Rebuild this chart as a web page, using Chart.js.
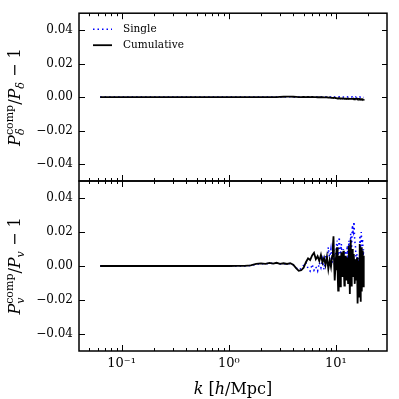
<!DOCTYPE html>
<html>
<head>
<meta charset="utf-8">
<script src="https://cdn.jsdelivr.net/npm/chart.js@4"></script>
<style>
html, body { margin: 0; padding: 0; background: #fff; }
#wrap { position: relative; width: 399px; height: 399px; }
#wrap canvas { position: absolute; left: 0; top: 0; }
</style>
</head>
<body>
<div id="wrap">
  <canvas id="densityChart" width="399" height="399"></canvas>
  <canvas id="velocityChart" width="399" height="399"></canvas>
</div>
<script>
// k in h/Mpc
var kValues = [0.063, 0.08, 0.1, 0.13, 0.16, 0.2, 0.25, 0.3, 0.4, 0.5, 0.6, 0.8, 1.0, 1.2, 1.4,
  1.6, 1.8, 2.0, 2.2, 2.4, 2.6, 2.8, 3.0,
  3.25, 3.5, 3.75, 4.0, 4.25, 4.5, 4.75, 5.0, 5.25, 5.5, 5.75, 6.0,
  6.25, 6.5, 6.75, 7.0, 7.25, 7.5, 7.75, 8.0, 8.25, 8.5, 8.75,
  9.0, 9.125, 9.25, 9.375, 9.5, 9.625, 9.75, 9.875,
  10.0, 10.125, 10.25, 10.375, 10.5, 10.625, 10.75, 10.875,
  11.0, 11.125, 11.25, 11.375, 11.5, 11.625, 11.75, 11.875,
  12.0, 12.125, 12.25, 12.375, 12.5, 12.625, 12.75, 12.875,
  13.0, 13.125, 13.25, 13.375, 13.5, 13.625, 13.75, 13.875,
  14.0, 14.125, 14.25, 14.375, 14.5, 14.625, 14.75, 14.875,
  15.0, 15.125, 15.25, 15.375, 15.5, 15.625, 15.75, 15.875,
  16.0, 16.125, 16.25, 16.375, 16.5, 16.625, 16.75, 16.875,
  17.0, 17.125, 17.25, 17.375, 17.5, 17.625, 17.75, 17.875,
  18.0, 18.2];

// top panel: P_delta
var densitySingle = [0, 0, 0, 0, 0, 0, 0, 0, 0, 0, 0, 0, 0, 0, 0,
  0, 0, 0, 0, 0, 0, 0, 0,
  0.0001, 0.0002, 0.0002, 0.0001, 0.0001, 0, 0, 0, 0, 0, 0, 0,
  0, 0, 0, 0, 0, 0.0001, 0, 0.0001, 0, 0.0001, 0,
  0.0001, 0, 0.0001, 0, 0, 0.0001, 0.0001, 0,
  0, 0.0001, 0.0001, 0, 0, 0.0001, 0.0002, 0.0001,
  0, 0, 0.0001, 0, -0.0001, 0, 0.0001, 0,
  0, 0, 0.0001, 0, -0.0001, 0.0001, 0.0002, 0.0001,
  0, 0, 0.0001, 0, -0.0001, 0, 0.0001, 0,
  0, 0.0001, 0.0002, 0, -0.0001, 0, 0.0001, 0,
  0, 0, 0.0001, 0, -0.0001, 0, 0.0001, -0.0001,
  -0.0002, -0.0001, 0, -0.0001, -0.0001, 0, 0.0001, -0.0001,
  -0.0002, -0.0001, 0, -0.0001, -0.0001, -0.0001, -0.0001, -0.0002,
  -0.0002, -0.0001];
var densityCumulative = [0, 0, 0, 0, 0, 0, 0, 0, 0, 0, 0, 0, 0, 0, 0,
  0, 0, 0, 0, 0, 0, 0, 0.0001,
  0.0002, 0.0003, 0.0003, 0.0002, 0.0001, 0, 0, 0.0001, 0, 0.0001, 0, 0.0001,
  0, 0, -0.0001, 0, -0.0001, -0.0001, -0.0002, -0.0002, -0.0001, -0.0003, -0.0002,
  -0.0004, -0.0003, -0.0004, -0.0005, -0.0005, -0.0004, -0.0004, -0.0005,
  -0.0006, -0.0006, -0.0007, -0.0008, -0.0008, -0.0007, -0.0007, -0.0008,
  -0.0009, -0.0008, -0.0008, -0.0009, -0.0009, -0.0008, -0.0008, -0.0009,
  -0.0010, -0.0009, -0.0009, -0.0010, -0.0010, -0.0009, -0.0009, -0.0010,
  -0.0011, -0.0010, -0.0009, -0.0010, -0.0010, -0.0011, -0.0011, -0.0010,
  -0.0009, -0.0010, -0.0010, -0.0011, -0.0011, -0.0010, -0.0010, -0.0011,
  -0.0012, -0.0011, -0.0010, -0.0011, -0.0011, -0.0010, -0.0009, -0.0011,
  -0.0012, -0.0011, -0.0010, -0.0011, -0.0011, -0.0012, -0.0013, -0.0012,
  -0.0011, -0.0012, -0.0012, -0.0013, -0.0014, -0.0013, -0.0012, -0.0014,
  -0.0015, -0.0013];

// bottom panel: P_v
var velocitySingle = [0, 0, 0, 0, 0, 0, 0, 0, 0, 0, 0, 0, 0, 0, 0,
  0.0003, 0.0010, 0.0014, 0.0013, 0.0016, 0.0015, 0.0017, 0.0012,
  0.0014, 0.0010, 0.0015, 0.0006, -0.0010, -0.0022, -0.0015, 0.0005, 0.0020, -0.0015, -0.0030, 0.0010,
  -0.0025, -0.0005, -0.0030, 0.0020, -0.0010, 0.0040, -0.0020, 0.0060, 0.0020, 0.0110, 0.0040,
  0.0100, 0.0060, 0.0020, 0.0070, 0.0120, 0.0050, -0.0010, 0.0030,
  0.0080, 0.0120, 0.0150, 0.0100, 0.0060, 0.0110, 0.0170, 0.0100,
  0.0040, 0.0090, 0.0130, 0.0070, 0.0020, 0.0060, 0.0100, 0.0030,
  -0.0030, 0.0030, 0.0090, 0.0050, 0.0010, 0.0070, 0.0120, 0.0080,
  0.0040, 0.0100, 0.0150, 0.0100, 0.0060, 0.0130, 0.0190, 0.0140,
  0.0090, 0.0170, 0.0240, 0.0210, 0.0200, 0.0230, 0.0260, 0.0200,
  0.0150, 0.0130, 0.0110, 0.0060, 0.0010, 0.0040, 0.0070, 0.0010,
  -0.0060, 0.0000, 0.0050, -0.0030, -0.0100, 0.0040, 0.0180, 0.0130,
  0.0090, 0.0150, 0.0200, 0.0160, 0.0120, 0.0140, 0.0160, 0.0110,
  0.0060, 0.0100];
var velocityCumulative = [0, 0, 0, 0, 0, 0, 0, 0, 0, 0, 0, 0, 0, 0.0001, 0.0001,
  0.0004, 0.0012, 0.0015, 0.0012, 0.0018, 0.0014, 0.0019, 0.0013,
  0.0016, 0.0012, 0.0017, 0.0008, -0.0012, -0.0028, -0.0025, -0.0010, 0.0022, 0.0045, 0.0035, 0.0062,
  0.0078, 0.0040, 0.0058, 0.0030, 0.0065, 0.0020, 0.0048, 0.0005, 0.0055, -0.0018, 0.0035,
  -0.0005, 0.0030, 0.0060, 0.0120, 0.0175, 0.0020, -0.0085, -0.0020,
  0.0040, 0.0090, 0.0110, -0.0030, -0.0145, -0.0050, 0.0060, -0.0040,
  -0.0120, 0.0010, 0.0080, 0.0020, -0.0060, 0.0030, 0.0090, -0.0020,
  -0.0115, -0.0030, 0.0060, 0.0010, -0.0080, -0.0010, 0.0050, -0.0040,
  -0.0100, 0.0020, 0.0120, -0.0020, -0.0165, 0.0000, 0.0155, 0.0020,
  -0.0120, -0.0010, 0.0100, 0.0020, -0.0060, 0.0010, 0.0070, -0.0030,
  -0.0105, -0.0020, 0.0040, -0.0020, -0.0080, -0.0010, 0.0050, -0.0090,
  -0.0220, -0.0080, 0.0030, -0.0070, -0.0180, -0.0020, 0.0130, -0.0050,
  -0.0210, -0.0040, 0.0110, -0.0010, -0.0150, -0.0020, 0.0090, -0.0010,
  -0.0120, 0.0060];

var seriesLabels = ['Single', 'Cumulative'];
var xTickValues = [0.1, 1, 10];
var xTickLabels = ['10\u207B\u00B9', '10\u2070', '10\u00B9'];
var yTickValues = [-0.04, -0.02, 0, 0.02, 0.04];

var SERIF = "'DejaVu Serif', serif";

// draws a small piece of math text, parts = [{t, it, s, dy, stack}]
function drawMath(ctx, parts, cx, cy, rotate) {
  var total = 0, held = 0;
  parts.forEach(function (p) {
    ctx.font = (p.it ? 'italic ' : '') + p.s + 'px ' + SERIF;
    p.w = ctx.measureText(p.t).width;
    if (p.stack) { held = p.w; } else { total += Math.max(p.w, held); held = 0; }
  });
  ctx.save();
  ctx.translate(cx, cy);
  if (rotate) ctx.rotate(-Math.PI / 2);
  ctx.fillStyle = '#000';
  ctx.textAlign = 'left';
  ctx.textBaseline = 'alphabetic';
  var x = -total / 2;
  held = 0;
  parts.forEach(function (p) {
    ctx.font = (p.it ? 'italic ' : '') + p.s + 'px ' + SERIF;
    ctx.fillText(p.t, x, p.dy || 0);
    if (p.stack) { held = p.w; } else { x += Math.max(p.w, held); held = 0; }
  });
  ctx.restore();
}

var panelDecor = {
  id: 'panelDecor',
  afterDraw: function (chart, args, o) {
    var ctx = chart.ctx, a = chart.chartArea, x = chart.scales.x, y = chart.scales.y;
    ctx.save();
    ctx.strokeStyle = '#000';
    ctx.lineWidth = 1;
    ctx.beginPath();
    xTickValues.forEach(function (v) {
      var px = Math.round(x.getPixelForValue(v)) + 0.5;
      ctx.moveTo(px, a.bottom); ctx.lineTo(px, a.bottom - 6);
      ctx.moveTo(px, a.top); ctx.lineTo(px, a.top + 6);
    });
    [0.01, 0.1, 1, 10].forEach(function (d) {
      for (var m = 2; m <= 9; m++) {
        var v = m * d;
        if (v <= x.min || v >= x.max) continue;
        var px = Math.round(x.getPixelForValue(v)) + 0.5;
        ctx.moveTo(px, a.bottom); ctx.lineTo(px, a.bottom - 3);
        ctx.moveTo(px, a.top); ctx.lineTo(px, a.top + 3);
      }
    });
    yTickValues.forEach(function (v) {
      var py = Math.round(y.getPixelForValue(v)) + 0.5;
      ctx.moveTo(a.left, py); ctx.lineTo(a.left + 6, py);
      ctx.moveTo(a.right, py); ctx.lineTo(a.right - 5, py);
    });
    ctx.stroke();
    ctx.lineWidth = 1.5;
    ctx.strokeRect(a.left, a.top, a.right - a.left, a.bottom - a.top);

    drawMath(ctx, o.yTitle, o.yTitleX, (a.top + a.bottom) / 2, true);
    if (o.xTitle) drawMath(ctx, o.xTitle, (a.left + a.right) / 2, o.xTitleY, false);

    if (o.legend) {
      chart.data.datasets.forEach(function (ds, i) {
        var ly = a.top + 16 + 16 * i;
        ctx.beginPath();
        ctx.setLineDash(ds.borderDash || []);
        ctx.strokeStyle = ds.borderColor;
        ctx.lineWidth = ds.borderWidth;
        ctx.moveTo(a.left + 14, ly); ctx.lineTo(a.left + 33, ly);
        ctx.stroke();
        ctx.setLineDash([]);
        ctx.fillStyle = '#000';
        ctx.font = '10.5px ' + SERIF;
        ctx.textBaseline = 'middle';
        ctx.textAlign = 'left';
        ctx.fillText(ds.label, a.left + 44, ly);
      });
    }
    ctx.restore();
  }
};

function buildPanel(id, single, cumulative, cfg) {
  return new Chart(document.getElementById(id), {
    type: 'line',
    data: {
      datasets: [
        {
          label: seriesLabels[0],
          data: kValues.map(function (k, i) { return { x: k, y: single[i] }; }),
          borderColor: '#0000ff',
          borderWidth: 1.5,
          borderDash: [1.5, 3],
          pointRadius: 0,
          order: 2
        },
        {
          label: seriesLabels[1],
          data: kValues.map(function (k, i) { return { x: k, y: cumulative[i] }; }),
          borderColor: '#000000',
          borderWidth: 1.8,
          pointRadius: 0,
          order: 1
        }
      ]
    },
    options: {
      responsive: false,
      animation: false,
      devicePixelRatio: 1,
      layout: { padding: { left: 0, right: 12, top: cfg.top, bottom: cfg.bottom } },
      plugins: {
        legend: { display: false },
        tooltip: { enabled: false },
        panelDecor: cfg.decor
      },
      scales: {
        x: {
          type: 'logarithmic',
          min: 0.04,
          max: 30,
          display: cfg.showX,
          grid: { display: false, drawTicks: false },
          border: { display: false },
          afterBuildTicks: function (s) { s.ticks = xTickValues.map(function (v) { return { value: v }; }); },
          afterFit: function (s) { s.height = cfg.showX ? 48 : 0; },
          ticks: {
            autoSkip: false,
            maxRotation: 0,
            padding: 5,
            color: '#000',
            font: { family: SERIF, size: 13 },
            callback: function (v, i) { return xTickLabels[i]; }
          }
        },
        y: {
          min: -0.05,
          max: 0.05,
          grid: { display: false, drawTicks: false },
          border: { display: false },
          afterBuildTicks: function (s) { s.ticks = yTickValues.map(function (v) { return { value: v }; }); },
          afterFit: function (s) { s.width = 79; },
          ticks: {
            padding: 6,
            color: '#000',
            font: { family: SERIF, size: 12 },
            callback: function (v) { return (v < 0 ? '\u2212' : '') + Math.abs(v).toFixed(2); }
          }
        }
      }
    },
    plugins: [panelDecor]
  });
}

buildPanel('densityChart', densitySingle, densityCumulative, {
  top: 12, bottom: 218, showX: false,
  decor: {
    legend: true,
    yTitleX: 20,
    yTitle: [
      { t: 'P', it: true, s: 16 },
      { t: '\u03B4', it: true, s: 11, dy: 4, stack: true },
      { t: 'comp', s: 11, dy: -7 },
      { t: '/', s: 16 },
      { t: 'P', it: true, s: 16 },
      { t: '\u03B4', it: true, s: 11, dy: 4 },
      { t: ' \u2212 1', s: 16 }
    ]
  }
});

buildPanel('velocityChart', velocitySingle, velocityCumulative, {
  top: 181, bottom: 0, showX: true,
  decor: {
    legend: false,
    yTitleX: 20,
    yTitle: [
      { t: 'P', it: true, s: 16 },
      { t: 'v', it: true, s: 11, dy: 4, stack: true },
      { t: 'comp', s: 11, dy: -7 },
      { t: '/', s: 16 },
      { t: 'P', it: true, s: 16 },
      { t: 'v', it: true, s: 11, dy: 4 },
      { t: ' \u2212 1', s: 16 }
    ],
    xTitleY: 394,
    xTitle: [
      { t: 'k', it: true, s: 16 },
      { t: ' [', s: 16 },
      { t: 'h', it: true, s: 16 },
      { t: '/Mpc]', s: 16 }
    ]
  }
});
</script>
</body>
</html>
